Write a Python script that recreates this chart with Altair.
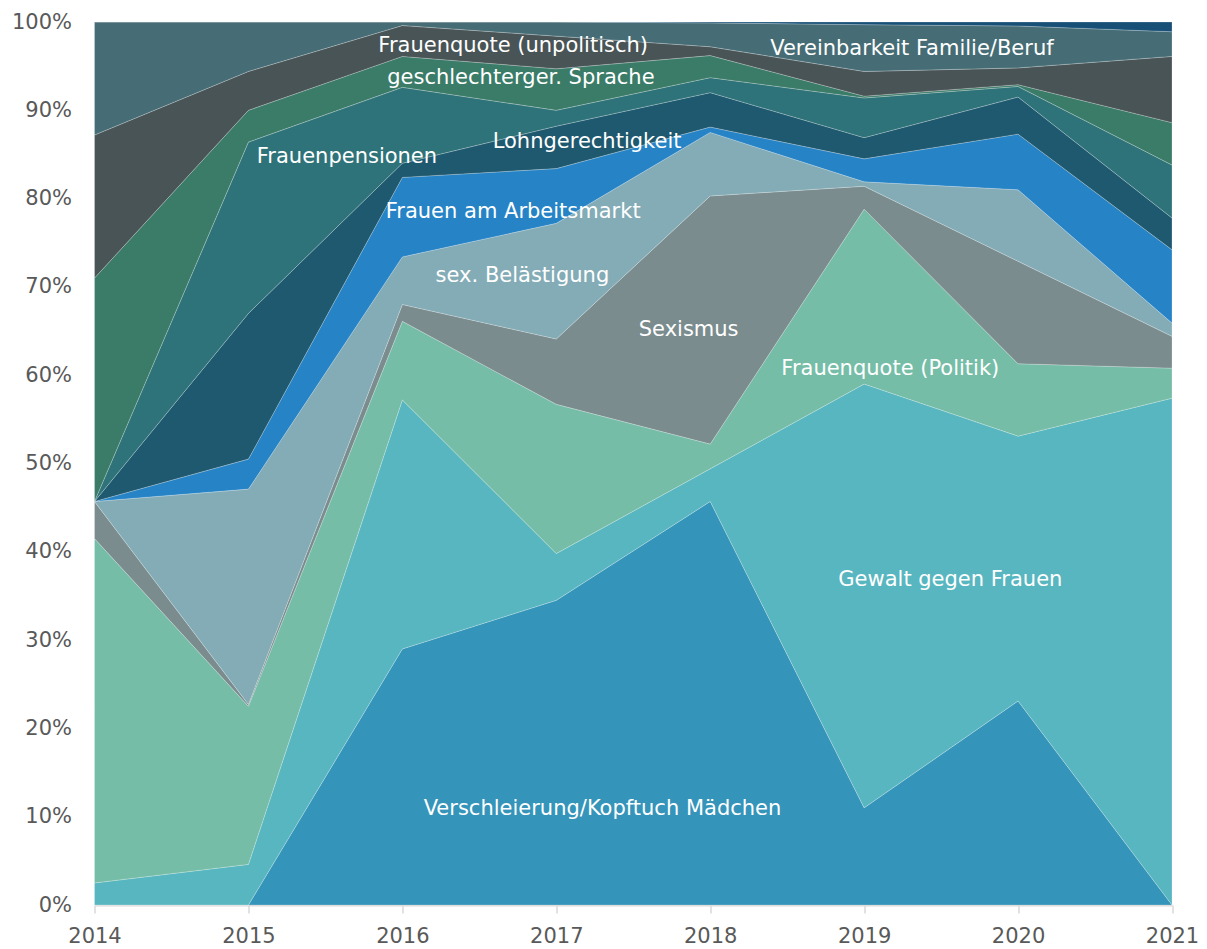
import altair as alt
import pandas as pd

years = [2014, 2015, 2016, 2017, 2018, 2019, 2020, 2021]

series_names = [
    "Verschleierung/Kopftuch Mädchen",
    "Gewalt gegen Frauen",
    "Frauenquote (Politik)",
    "Sexismus",
    "sex. Belästigung",
    "Frauen am Arbeitsmarkt",
    "Lohngerechtigkeit",
    "Frauenpensionen",
    "geschlechterger. Sprache",
    "Frauenquote (unpolitisch)",
    "Vereinbarkeit Familie/Beruf",
    "weitere",
]

series_colors = [
    "#3494BA", "#58B6C0", "#75BDA7", "#7A8C8E", "#84ACB6", "#2683C6",
    "#1F596F", "#2E7379", "#3B7C68", "#495456", "#466D76", "#174F77",
]

# shares in percent per year (2014..2021)
verschleierung = [0.0, 0.0, 29.0, 34.5, 45.7, 11.0, 23.1, 0.0]
gewalt = [2.5, 4.6, 28.2, 5.3, 3.7, 48.0, 30.0, 57.4]
quote_politik = [39.0, 17.9, 8.9, 16.9, 2.8, 19.8, 8.2, 3.4]
sexismus = [4.2, 0.2, 1.9, 7.4, 28.1, 2.6, 11.6, 3.6]
belaestigung = [0.0, 24.4, 5.4, 13.1, 7.2, 0.5, 8.1, 1.5]
arbeitsmarkt = [0.0, 3.4, 9.0, 6.2, 0.6, 2.6, 6.3, 8.3]
lohn = [0.0, 16.5, 1.6, 4.8, 3.9, 2.4, 4.2, 3.6]
pensionen = [0.0, 19.4, 8.6, 1.8, 1.7, 4.5, 1.2, 6.0]
sprache = [25.3, 3.6, 3.5, 4.7, 2.5, 0.2, 0.2, 4.8]
quote_unpol = [16.2, 4.4, 3.5, 3.7, 1.0, 2.8, 1.9, 7.5]
vereinbarkeit = [12.8, 5.6, 0.4, 1.6, 2.7, 5.3, 4.75, 2.8]
weitere = [0.0, 0.0, 0.0, 0.0, 0.1, 0.3, 0.45, 1.1]

series_values = [
    verschleierung, gewalt, quote_politik, sexismus, belaestigung, arbeitsmarkt,
    lohn, pensionen, sprache, quote_unpol, vereinbarkeit, weitere,
]

label_texts = [
    "Frauenquote (unpolitisch)", "geschlechterger. Sprache", "Frauenpensionen",
    "Lohngerechtigkeit", "Frauen am Arbeitsmarkt", "sex. Belästigung", "Sexismus",
    "Frauenquote (Politik)", "Gewalt gegen Frauen",
    "Verschleierung/Kopftuch Mädchen", "Vereinbarkeit Familie/Beruf",
]
label_years = [2016.72, 2016.77, 2015.64, 2017.20, 2016.72, 2016.78, 2017.86,
               2019.17, 2019.56, 2017.30, 2019.31]
label_pcts = [97.3, 93.7, 84.7, 86.4, 78.5, 71.2, 65.1, 60.7, 36.8, 10.9, 96.9]

rows = []
for i, (name, vals) in enumerate(zip(series_names, series_values)):
    for y, v in zip(years, vals):
        rows.append({"Jahr": y, "Thema": name, "Anteil": v, "idx": i})
df = pd.DataFrame(rows)

labels = pd.DataFrame({
    "text": label_texts,
    "Jahr": label_years,
    "pos": [p / 100 for p in label_pcts],
})

FONT = "DejaVu Sans"

x_scale = alt.Scale(domain=[2014, 2021], nice=False, zero=False)
y_scale = alt.Scale(domain=[0, 1], nice=False)

area = alt.Chart(df).mark_area(
    stroke="#ffffff", strokeWidth=0.5, strokeOpacity=0.45
).encode(
    x=alt.X(
        "Jahr:Q", scale=x_scale,
        axis=alt.Axis(
            values=years, format="d", title=None, grid=False,
            domainColor="#D9D9D9", domainWidth=2, tickColor="#D9D9D9",
            tickWidth=1.5, tickSize=8, labelPadding=12, labelFontSize=21,
            labelColor="#595959", labelFont=FONT, labelFlush=False,
            labelOverlap=False,
        ),
    ),
    y=alt.Y(
        "Anteil:Q", stack="normalize", scale=y_scale,
        axis=alt.Axis(
            format=".0%", values=[i / 10 for i in range(11)], title=None,
            grid=False, domain=False, ticks=False, labelPadding=23,
            labelFontSize=21, labelColor="#595959", labelFont=FONT,
            labelFlush=False, labelOverlap=False,
        ),
    ),
    color=alt.Color(
        "Thema:N", scale=alt.Scale(domain=series_names, range=series_colors),
        legend=None,
    ),
    order=alt.Order("idx:Q", sort="ascending"),
)

text = alt.Chart(labels).mark_text(
    color="white", fontSize=21, font=FONT, align="center", baseline="middle"
).encode(
    x=alt.X("Jahr:Q", scale=x_scale),
    y=alt.Y("pos:Q", scale=y_scale, stack=None),
    text="text:N",
)

chart = alt.layer(area, text).properties(
    width=1077.5,
    height=883,
    padding={"left": 86.5, "top": 14, "right": 26, "bottom": 46},
    autosize="none",
).configure_view(strokeWidth=0)

chart.save("out.html", embed_options={"renderer": "svg", "actions": False})
